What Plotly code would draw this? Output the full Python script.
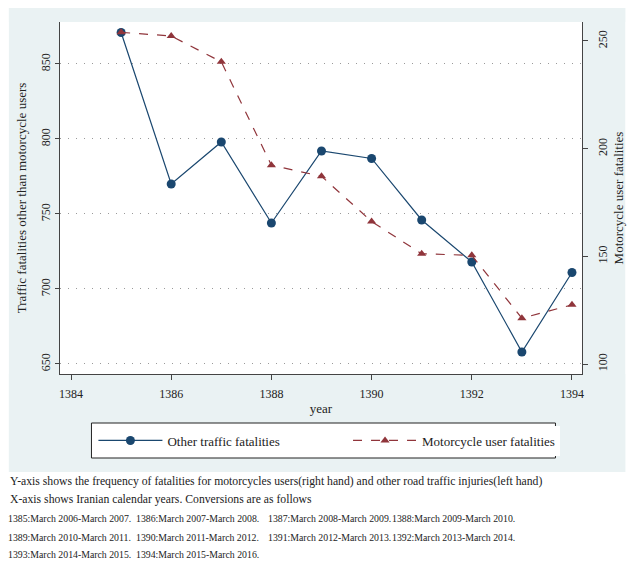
import plotly.graph_objects as go

years = [1385, 1386, 1387, 1388, 1389, 1390, 1391, 1392, 1393, 1394]
other_fatalities = [871, 770, 798, 744, 792, 787, 746, 718, 658, 711]
motorcycle_fatalities = [254, 252.3, 240.3, 192.3, 187.2, 166.2, 151.2, 150.5, 121.3, 127.5]

x_ticks = [1384, 1386, 1388, 1390, 1392, 1394]
y_ticks = [650, 700, 750, 800, 850]
y2_ticks = [100, 150, 200, 250]

note_lines = [
    "Y-axis shows the frequency of fatalities for motorcycles users(right hand) and other road traffic injuries(left hand)",
    "X-axis shows Iranian calendar years. Conversions are as follows",
]
conversions = [
    ["1385:March 2006-March 2007.", "1386:March 2007-March 2008.", "1387:March 2008-March 2009.", "1388:March 2009-March 2010."],
    ["1389:March 2010-March 2011.", "1390:March 2011-March 2012.", "1391:March 2012-March 2013.", "1392:March 2013-March 2014."],
    ["1393:March 2014-March 2015.", "1394:March 2015-March 2016."],
]

FONT = "Liberation Serif"
NAVY = "#1a476f"
MAROON = "#90353b"
PANEL = "#eaf2f3"
TXT = "#222222"

# page body has an 8px margin; work in figure pixels
W, H = 628, 551
L, R, T, B = 52, 583, 14, 366   # plot area in figure pixels
pw, ph = R - L, B - T
PANEL_RIGHT, PANEL_BOTTOM = 627, 464
LEG_L, LEG_R, LEG_T, LEG_B = 84, 556, 415, 450


def px_x(x):
    return (x - L) / pw


def px_y(y):
    return (B - y) / ph


def rect(x0, y0, x1, y1, **kw):
    return dict(type="rect", xref="paper", yref="paper",
                x0=px_x(x0), x1=px_x(x1), y0=px_y(y1), y1=px_y(y0),
                layer="below", **kw)


fig = go.Figure()
fig.add_trace(go.Scatter(
    x=years, y=other_fatalities, name="Other traffic fatalities",
    mode="lines+markers", line=dict(color=NAVY, width=1.2),
    marker=dict(symbol="circle", size=9, color=NAVY), legend="legend",
))
fig.add_trace(go.Scatter(
    x=years, y=motorcycle_fatalities, name="Motorcycle user fatalities",
    yaxis="y2", mode="lines+markers",
    line=dict(color=MAROON, width=1.2, dash="dash"),
    marker=dict(symbol="triangle-up", size=8, color=MAROON), legend="legend2",
))

# grey panel drawn as four strips around the (white) plot area
no_line = dict(width=0)
shapes = [
    rect(0, 0, PANEL_RIGHT, T, fillcolor=PANEL, line=no_line),
    rect(0, 0, L, PANEL_BOTTOM, fillcolor=PANEL, line=no_line),
    rect(R, 0, PANEL_RIGHT, PANEL_BOTTOM, fillcolor=PANEL, line=no_line),
    rect(0, B, PANEL_RIGHT, PANEL_BOTTOM, fillcolor=PANEL, line=no_line),
    rect(LEG_L, LEG_T, LEG_R, LEG_B, fillcolor="white", line=dict(width=1, color=TXT)),
]

annotations = []
ys = [473, 491.5]
for txt, y in zip(note_lines, ys):
    annotations.append(dict(text=txt, xref="paper", yref="paper", x=px_x(-1), y=px_y(y),
                            xanchor="left", yanchor="middle", showarrow=False,
                            font=dict(family=FONT, size=11.7, color=TXT)))
col_x = [-1.5, 128, 263, 389]
row_y = [510.5, 529, 546]
for row, y in zip(conversions, row_y):
    for txt, x in zip(row, col_x):
        annotations.append(dict(text=txt, xref="paper", yref="paper", x=px_x(x), y=px_y(y),
                                xanchor="left", yanchor="middle", showarrow=False,
                                borderpad=0,
                                font=dict(family=FONT, size=9.8, color=TXT)))

AX = "#444444"
leg_common = dict(
    orientation="h", yanchor="middle", xanchor="left",
    bgcolor="white", borderwidth=0,
    font=dict(family=FONT, size=13, color=TXT), itemwidth=64,
)
fig.update_layout(
    width=W, height=H,
    margin=dict(l=L, r=W - R, t=T, b=H - B),
    paper_bgcolor="white", plot_bgcolor="white",
    font=dict(family=FONT, size=12, color=TXT),
    shapes=shapes, annotations=annotations,
    xaxis=dict(
        range=[1383.78, 1394.2], tickvals=x_ticks, ticks="outside", ticklen=5,
        tickcolor=AX, showline=True, linecolor=AX, linewidth=1,
        showgrid=False, zeroline=False, ticklabelstandoff=4,
        title=dict(text="year", font=dict(size=13), standoff=3),
        tickfont=dict(size=12),
    ),
    yaxis=dict(
        range=[643.3, 878], tickvals=y_ticks, ticks="outside", ticklen=4,
        tickcolor=AX, showline=True, linecolor=AX, linewidth=1,
        showgrid=True, gridcolor="#9a9a9a", griddash="1px,7px", gridwidth=1,
        zeroline=False, tickangle=-90, ticklabelstandoff=0,
        title=dict(text="Traffic fatalities other than motorcycle users", font=dict(size=13), standoff=9),
        tickfont=dict(size=12),
    ),
    yaxis2=dict(
        range=[95.4, 258.8], tickvals=y2_ticks, overlaying="y", side="right",
        ticks="outside", ticklen=5, tickcolor=AX, showline=True,
        linecolor=AX, linewidth=1, showgrid=False, zeroline=False,
        tickangle=-90, ticklabelstandoff=5,
        title=dict(text="Motorcycle user fatalities", font=dict(size=13), standoff=4),
        tickfont=dict(size=12),
    ),
    legend=dict(x=px_x(LEG_L + 2), y=px_y((LEG_T + LEG_B) / 2), **leg_common),
    legend2=dict(x=px_x(345), y=px_y((LEG_T + LEG_B) / 2), **leg_common),
    showlegend=True,
)

fig.write_html("out.html")
